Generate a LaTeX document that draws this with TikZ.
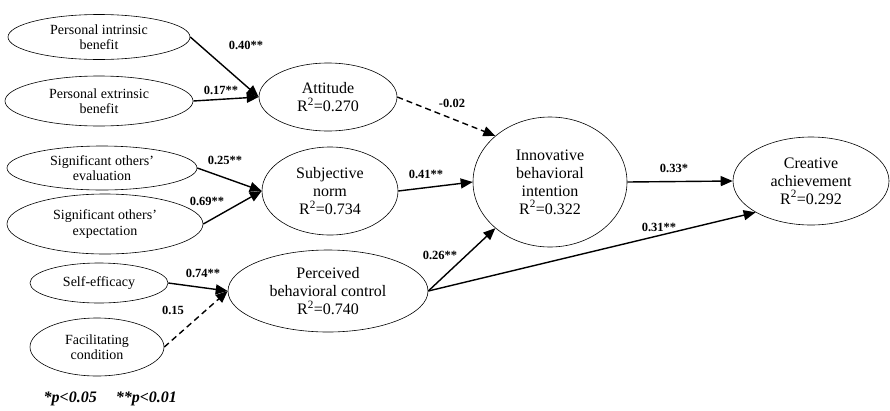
\documentclass[tikz,border=0pt]{standalone}
\usepackage{fontspec}
\setmainfont{Liberation Serif}
\usepackage{tikz}
\usetikzlibrary{arrows.meta,shapes.geometric}

\begin{document}
\begin{tikzpicture}[x=1pt,y=-1pt,line width=1.4pt,
  latent/.style={ellipse,draw,line width=0.6pt,inner sep=0pt,align=center},
  outer/.style={latent,font=\fontsize{14}{15.5}\selectfont},
  inner/.style={latent,font=\fontsize{16}{18}\selectfont},
  coef/.style={font=\bfseries\fontsize{12.5}{14}\selectfont,inner sep=0pt},
  path/.style={-{Triangle[length=12pt,width=10pt]}},
  weak/.style={path,dash pattern=on 6pt off 4pt}]
  \useasboundingbox (0,0) rectangle (890,410);
  % exogenous factors
  \node[outer,minimum width=182pt,minimum height=45pt] (pib) at (99,37) {Personal intrinsic\\benefit};
  \node[outer,minimum width=188pt,minimum height=50pt] (peb) at (99,101) {Personal extrinsic\\benefit};
  \node[outer,minimum width=190pt,minimum height=44pt] (soe) at (102,168) {Significant others'\\evaluation};
  \node[outer,minimum width=196pt,minimum height=60pt] (sox) at (105,224) {Significant others'\\expectation};
  \node[outer,minimum width=138pt,minimum height=40pt] (se) at (99,283) {Self-efficacy};
  \node[outer,minimum width=134pt,minimum height=58pt] (fc) at (97,347) {Facilitating\\condition};
  % mediators and outcomes
  \node[inner,minimum width=138pt,minimum height=68pt] (att) at (328,97) {Attitude\\R\textsuperscript{2}=0.270};
  \node[inner,minimum width=136pt,minimum height=88pt] (sn) at (330,191) {Subjective\\norm\\R\textsuperscript{2}=0.734};
  \node[inner,minimum width=200pt,minimum height=82pt] (pbc) at (328,291) {Perceived\\behavioral control\\R\textsuperscript{2}=0.740};
  \node[inner,minimum width=154pt,minimum height=130pt] (ibi) at (550,182) {Innovative\\behavioral\\intention\\R\textsuperscript{2}=0.322};
  \node[inner,minimum width=156pt,minimum height=88pt] (ca) at (811,181) {Creative\\achievement\\R\textsuperscript{2}=0.292};
  % paths
  \draw[path] (pib.east) -- (att.west);
  \draw[path] (peb.east) -- (att.west);
  \draw[path] (soe.east) -- (sn.west);
  \draw[path] (sox.east) -- (sn.west);
  \draw[path] (se.east) -- (pbc.west);
  \draw[weak] (fc.east) -- (pbc.west);
  \draw[weak] (att.east) -- (ibi.north west);
  \draw[path] (sn.east) -- (ibi.west);
  \draw[path] (pbc.east) -- (ibi.south west);
  \draw[path] (pbc.east) -- (ca.south west);
  \draw[path] (ibi.east) -- (ca.west);
  % coefficients
  \node[coef] (c1) at (246,45) {0.40**};
  \node[coef] (c2) at (221,90) {0.17**};
  \node[coef] (c3) at (225,160) {0.25**};
  \node[coef] (c4) at (207,201) {0.69**};
  \node[coef] (c5) at (203,273) {0.74**};
  \node[coef] (c6) at (173,310) {0.15};
  \node[coef] (c7) at (452,103) {-0.02};
  \node[coef] (c8) at (426,174) {0.41**};
  \node[coef] (c9) at (440,255) {0.26**};
  \node[coef] (c10) at (674,168) {0.33*};
  \node[coef] (c11) at (659,227) {0.31**};
  \node[anchor=west,inner sep=0pt,font=\bfseries\itshape\fontsize{16}{18}\selectfont] (note) at (43,399) {*p<0.05\hspace{19pt}**p<0.01};
\end{tikzpicture}
\end{document}
